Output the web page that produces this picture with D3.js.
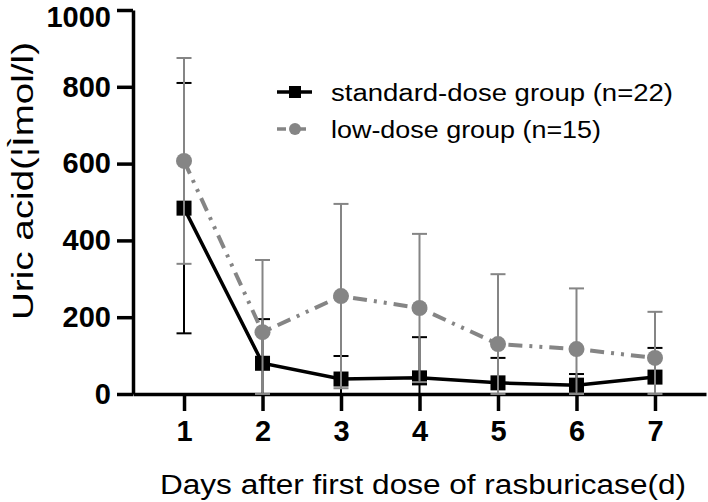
<!DOCTYPE html>
<html><head><meta charset="utf-8">
<script src="https://cdn.jsdelivr.net/npm/d3@7"></script>
<style>
html,body{margin:0;padding:0;background:#fff;}
svg{display:block;}
text{font-family:"Liberation Sans",Arial,sans-serif;}
</style></head>
<body>
<svg id="chart" width="708" height="502"></svg>
<script>
// ---- data ----
const days = [1, 2, 3, 4, 5, 6, 7];
const standardMean = [484, 80, 39, 42, 29, 23, 44];
const standardSD   = [326, 115, 60, 106, 65, 29, 76];
const lowMean      = [607, 161, 255, 224, 130, 117, 94];
const lowSD        = [268, 188, 240, 193, 182, 158, 120];
const yTicks = [0, 200, 400, 600, 800, 1000];
const seriesNames = ["standard-dose group (n=22)", "low-dose group (n=15)"];
const xTitle = "Days after first dose of rasburicase(d)";
const yTitle = "Uric acid(\u00A6\u00CCmol/l)";

const svg = d3.select("#chart");
const x = d3.scaleLinear().domain([0.35, 7.65]).range([133, 706]);
const y = d3.scaleLinear().domain([0, 1000]).range([394, 10]);

const black = "#000", gray = "#858585";

function toRows(mean, sd) {
  return days.map((d, i) => ({ d, m: mean[i], hi: mean[i] + sd[i], lo: Math.max(0, mean[i] - sd[i]) }));
}
const stdRows = toRows(standardMean, standardSD);
const lowRows = toRows(lowMean, lowSD);

// axes
const yAxis = svg.append("g").attr("transform", "translate(133,0)")
  .call(d3.axisLeft(y).tickValues(yTicks).tickFormat(d3.format("d")).tickSize(16).tickSizeOuter(0).tickPadding(6));
const xAxis = svg.append("g").attr("transform", "translate(0,394)")
  .call(d3.axisBottom(x).tickValues(days).tickFormat(d3.format("d")).tickSize(17).tickSizeOuter(0).tickPadding(9));
[yAxis, xAxis].forEach(g => {
  g.select(".domain").attr("stroke", black).attr("stroke-width", 3.5);
  g.selectAll(".tick line").attr("stroke", black).attr("stroke-width", 3.5);
  g.selectAll(".tick text").attr("fill", black).attr("font-size", 29).attr("font-weight", "bold")
    .attr("font-family", "'Liberation Sans', Arial, sans-serif");
});
yAxis.selectAll(".tick text").filter(d => d === 1000).attr("dy", "0.57em");

function errorBars(rows, color) {
  const g = svg.append("g").attr("stroke", color).attr("stroke-width", 2).attr("fill", "none");
  rows.forEach(r => {
    g.append("line").attr("x1", x(r.d)).attr("x2", x(r.d)).attr("y1", y(r.lo)).attr("y2", y(r.hi));
    g.append("line").attr("x1", x(r.d) - 7.5).attr("x2", x(r.d) + 7.5).attr("y1", y(r.hi)).attr("y2", y(r.hi));
    g.append("line").attr("x1", x(r.d) - 7.5).attr("x2", x(r.d) + 7.5).attr("y1", y(r.lo)).attr("y2", y(r.lo));
  });
}
const line = d3.line().x(r => x(r.d)).y(r => y(r.m));

// standard-dose
errorBars(stdRows, black);
svg.append("path").datum(stdRows).attr("d", line).attr("fill", "none").attr("stroke", black).attr("stroke-width", 3.5);
svg.append("g").selectAll("rect").data(stdRows).join("rect")
  .attr("x", r => x(r.d) - 7.5).attr("y", r => y(r.m) - 7.5).attr("width", 15).attr("height", 15).attr("fill", black);

// low-dose
errorBars(lowRows, gray);
svg.append("path").datum(lowRows).attr("d", line).attr("fill", "none").attr("stroke", gray)
  .attr("stroke-width", 4).attr("stroke-dasharray", "14,7,3,7,3,7");
svg.append("g").selectAll("circle").data(lowRows).join("circle")
  .attr("cx", r => x(r.d)).attr("cy", r => y(r.m)).attr("r", 8).attr("fill", gray);

// legend
const lg = svg.append("g");
lg.append("line").attr("x1", 277).attr("x2", 312).attr("y1", 92).attr("y2", 92).attr("stroke", black).attr("stroke-width", 3.5);
lg.append("rect").attr("x", 289).attr("y", 86).attr("width", 12).attr("height", 12).attr("fill", black);
lg.append("line").attr("x1", 277).attr("x2", 312).attr("y1", 129).attr("y2", 129).attr("stroke", gray).attr("stroke-width", 3.5).attr("stroke-dasharray", "9,4,3,4,9");
lg.append("circle").attr("cx", 295).attr("cy", 129).attr("r", 6).attr("fill", gray);
lg.append("text").attr("x", 331).attr("y", 101).attr("font-size", 23).attr("textLength", 342).attr("lengthAdjust", "spacingAndGlyphs").text(seriesNames[0]);
lg.append("text").attr("x", 331).attr("y", 138).attr("font-size", 23).attr("textLength", 270).attr("lengthAdjust", "spacingAndGlyphs").text(seriesNames[1]);

// titles
svg.append("text").attr("x", 160).attr("y", 494).attr("font-size", 27).attr("textLength", 526).attr("lengthAdjust", "spacingAndGlyphs").text(xTitle);
svg.append("text").attr("transform", "translate(33,320) rotate(-90)").attr("font-size", 29).attr("textLength", 278).attr("lengthAdjust", "spacingAndGlyphs").text(yTitle);
</script>
</body></html>
